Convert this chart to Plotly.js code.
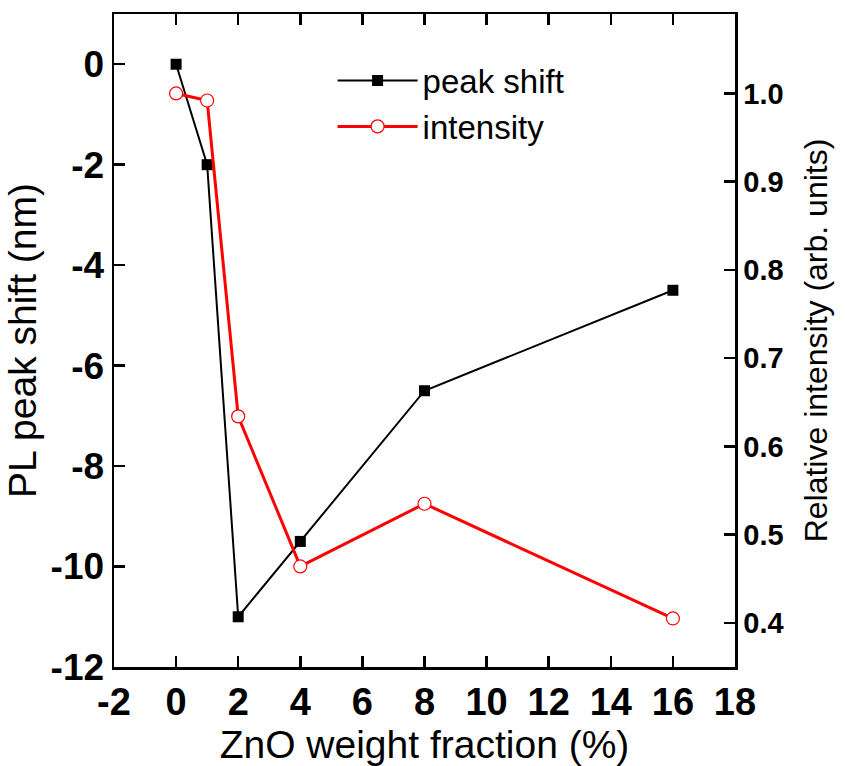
<!DOCTYPE html>
<html><head><meta charset="utf-8">
<script src="https://cdn.plot.ly/plotly-3.0.1.min.js"></script>
<style>
body{margin:0;background:#fff}
</style>
</head><body>
<div id="chart" style="width:845px;height:766px"></div>
<script>
// Data
const znoFraction = [0, 1, 2, 4, 8, 16];
const peakShift = [0, -2, -11, -9.5, -6.5, -4.5];
const relIntensity = [1.0, 0.992, 0.634, 0.464, 0.535, 0.405];
const xTicks = [-2, 0, 2, 4, 6, 8, 10, 12, 14, 16, 18];
const yTicks = [0, -2, -4, -6, -8, -10, -12];
const y2Ticks = [0.4, 0.5, 0.6, 0.7, 0.8, 0.9, 1.0];
const seriesNames = ['peak shift', 'intensity'];
const xTitle = 'ZnO weight fraction (%)';
const yTitle = 'PL peak shift (nm)';
const y2Title = 'Relative intensity (arb. units)';

const FONT = 'Arial, Liberation Sans, Helvetica, sans-serif';

const traces = [
  {
    x: znoFraction, y: peakShift, name: seriesNames[0], yaxis: 'y',
    mode: 'lines+markers', type: 'scatter',
    line: {color: '#000000', width: 2},
    marker: {symbol: 'square', size: 11, color: '#000000'}
  },
  {
    x: znoFraction, y: relIntensity, name: seriesNames[1], yaxis: 'y2',
    mode: 'lines+markers', type: 'scatter',
    line: {color: '#ff0000', width: 3},
    marker: {symbol: 'circle', size: 13, color: '#ffffff', line: {color: '#ff0000', width: 1.2}}
  }
];

const axisCommon = {
  showline: true, linecolor: '#000', linewidth: 2.5,
  ticks: 'inside', ticklen: 11, tickwidth: 2.5, tickcolor: '#000',
  showgrid: false, zeroline: false, automargin: false
};

const layout = {
  width: 845, height: 766,
  margin: {l: 114, r: 110, t: 14, b: 99},
  paper_bgcolor: '#fff', plot_bgcolor: '#fff',
  font: {family: FONT, color: '#000'},
  showlegend: true,
  legend: {
    x: 0.352, y: 0.941, xanchor: 'left', yanchor: 'top',
    bgcolor: 'rgba(0,0,0,0)', borderwidth: 0,
    font: {family: FONT, size: 33, color: '#000'},
    itemwidth: 80, tracegroupgap: 0
  },
  xaxis: Object.assign({}, axisCommon, {
    range: [-2, 18], tickvals: xTicks, ticktext: xTicks.map(v => String(v)), mirror: 'ticks',
    tickfont: {family: FONT, size: 38, weight: 'bold', color: '#000'},
    title: {text: xTitle, font: {family: FONT, size: 39, color: '#000'}, standoff: 0}
  }),
  yaxis: Object.assign({}, axisCommon, {
    range: [-12, 1], tickvals: yTicks, ticktext: yTicks.map(v => String(v)),
    tickfont: {family: FONT, size: 37, weight: 'bold', color: '#000'},
    title: {text: yTitle, font: {family: FONT, size: 39, color: '#000'}, standoff: 2}
  }),
  yaxis2: Object.assign({}, axisCommon, {
    overlaying: 'y', side: 'right',
    range: [0.35, 1.09], tickvals: y2Ticks, ticktext: y2Ticks.map(v => v.toFixed(1)),
    tickfont: {family: FONT, size: 29, weight: 'bold', color: '#000'},
    title: {text: y2Title, font: {family: FONT, size: 32, color: '#000'}, standoff: 22}
  })
};

Plotly.newPlot('chart', traces, layout, {displayModeBar: false, staticPlot: true});
</script>
</body></html>
